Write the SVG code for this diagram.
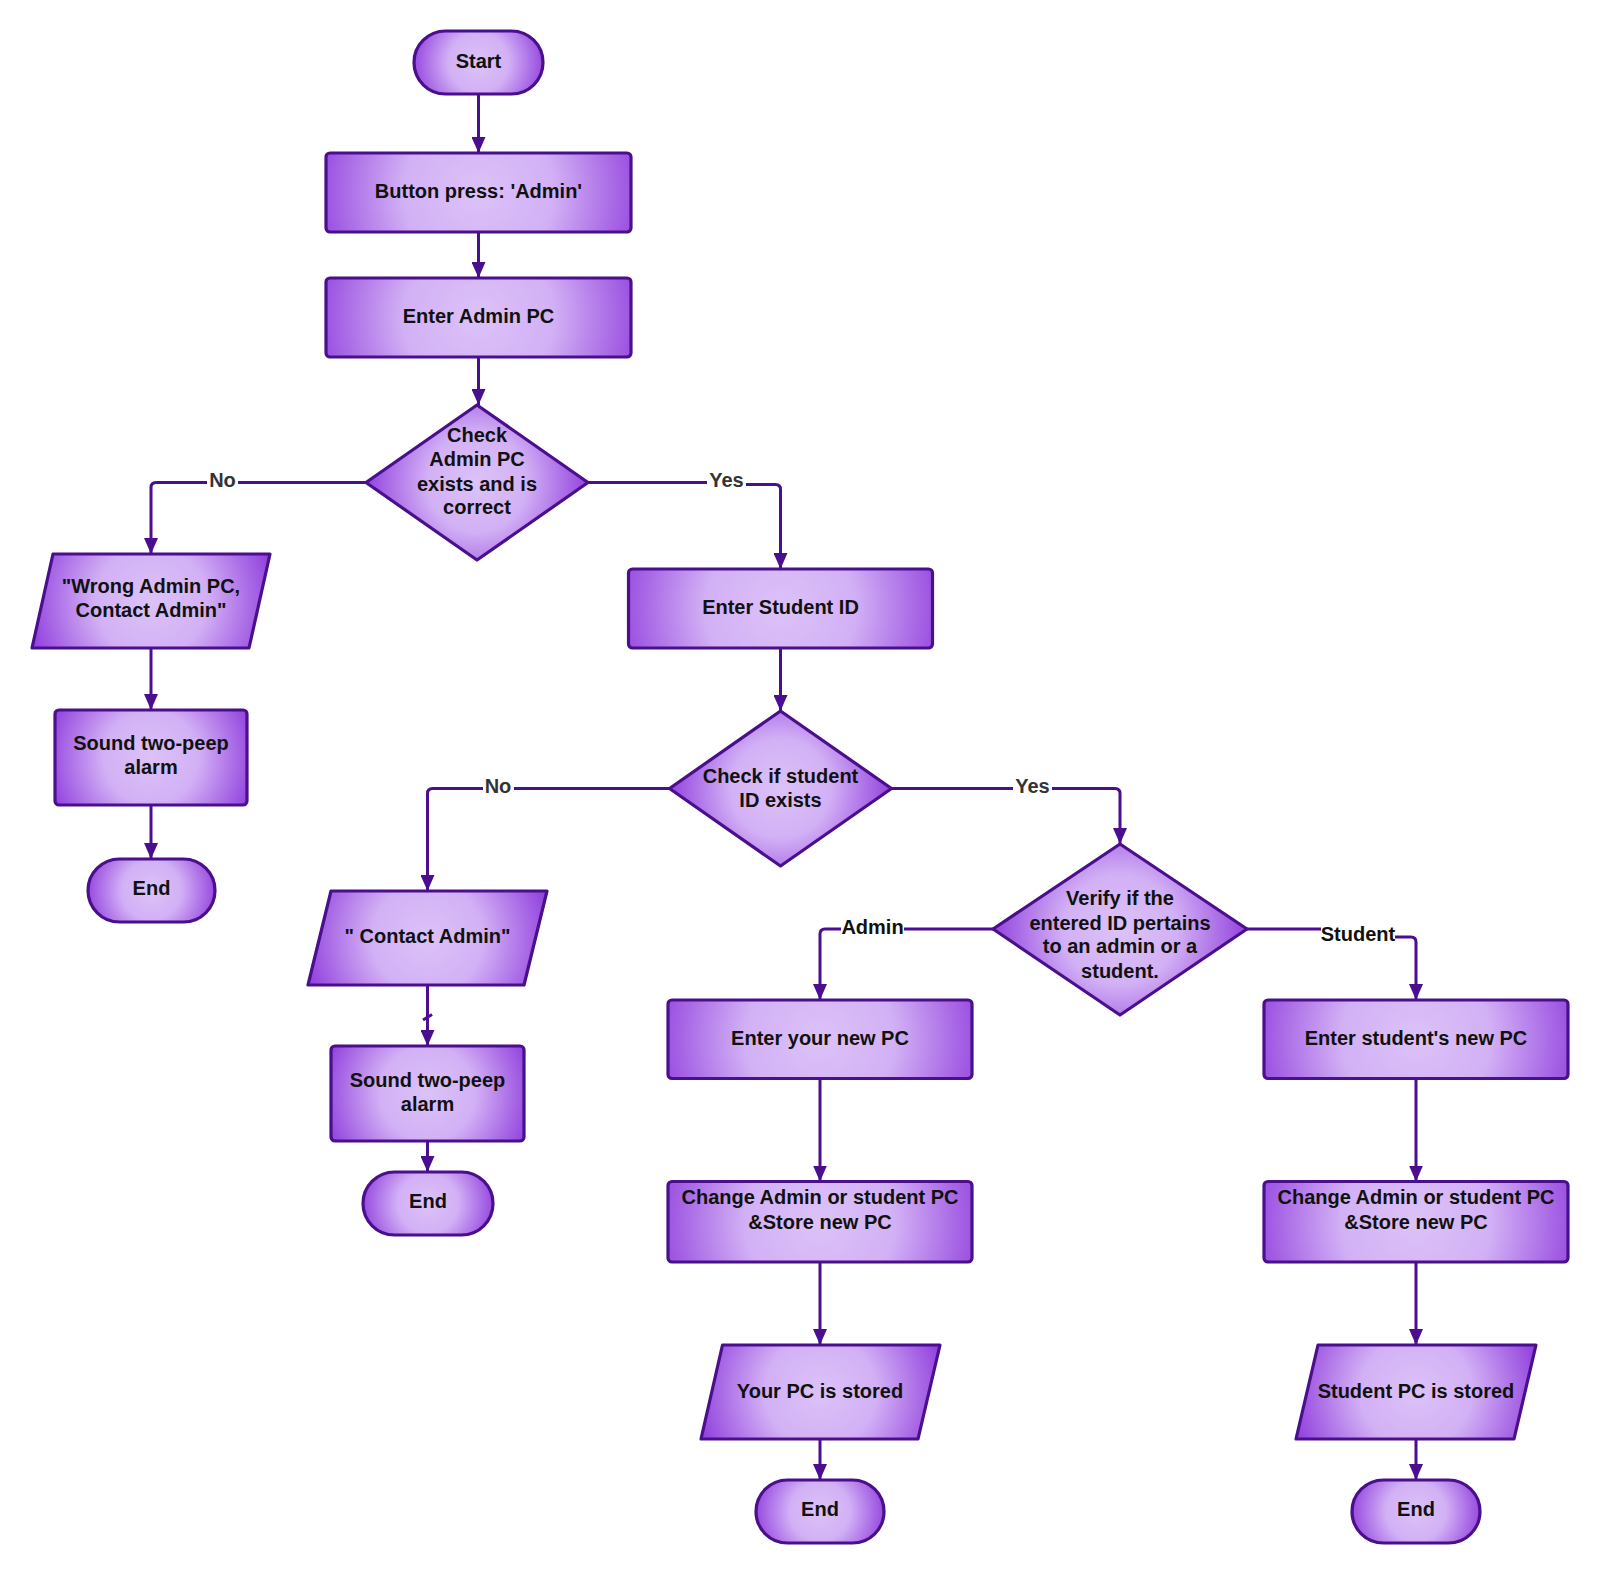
<svg xmlns="http://www.w3.org/2000/svg" width="1600" height="1575" viewBox="0 0 1600 1575">
<defs>
<radialGradient id="gBox" cx="0.5" cy="0.5" r="0.55" gradientTransform="translate(0.5 0.5) scale(1 3.88) translate(-0.5 -0.5)">
<stop offset="0" stop-color="#dcc2f8"/><stop offset="0.45" stop-color="#d2b0f5"/><stop offset="1" stop-color="#9343de"/>
</radialGradient>
<radialGradient id="gSmall" cx="0.5" cy="0.5" r="0.55" gradientTransform="translate(0.5 0.5) scale(1 2.02) translate(-0.5 -0.5)">
<stop offset="0" stop-color="#dcc2f8"/><stop offset="0.45" stop-color="#d2b0f5"/><stop offset="1" stop-color="#9343de"/>
</radialGradient>
<radialGradient id="gTerm" cx="0.5" cy="0.5" r="0.52" gradientTransform="translate(0.5 0.5) scale(1 2.03) translate(-0.5 -0.5)">
<stop offset="0" stop-color="#dcc2f8"/><stop offset="0.45" stop-color="#d2b0f5"/><stop offset="1" stop-color="#9343de"/>
</radialGradient>
<radialGradient id="gDia" cx="0.5" cy="0.5" r="0.5" gradientTransform="translate(0.5 0.5) scale(1 1.43) translate(-0.5 -0.5)">
<stop offset="0" stop-color="#dcc2f8"/><stop offset="0.45" stop-color="#d2b0f5"/><stop offset="1" stop-color="#9343de"/>
</radialGradient>
<radialGradient id="gPara" cx="0.5" cy="0.5" r="0.52" gradientTransform="translate(0.5 0.5) scale(1 2.53) translate(-0.5 -0.5)">
<stop offset="0" stop-color="#dcc2f8"/><stop offset="0.45" stop-color="#d2b0f5"/><stop offset="1" stop-color="#9343de"/>
</radialGradient>
<marker id="arr" markerUnits="userSpaceOnUse" markerWidth="16" markerHeight="14" refX="16" refY="7" orient="auto">
<path d="M0,0 L16,7 L0,14 z" fill="#4b0e8e"/>
</marker>
</defs>
<style>
.shape{stroke:#4a0f8c;stroke-width:3.2;stroke-linejoin:round}
.t{font-family:"Liberation Sans",Arial,Helvetica,sans-serif;font-weight:bold;font-size:20px;fill:#111;text-anchor:middle;white-space:pre}
.lbl{font-family:"Liberation Sans",Arial,Helvetica,sans-serif;font-weight:bold;font-size:20px;text-anchor:middle}
.c{fill:none;stroke:#4b0e8e;stroke-width:3}
.bg{fill:#ffffff}
</style>
<rect width="1600" height="1575" fill="#ffffff"/>

<g id="connectors">
<path class="c" d="M478.5 94 V153" marker-end="url(#arr)"/>
<path class="c" d="M478.5 232 V278" marker-end="url(#arr)"/>
<path class="c" d="M478.5 357 V405" marker-end="url(#arr)"/>
<path class="c" d="M366 482.5 H156 Q151 482.5 151 487.5 V554" marker-end="url(#arr)"/>
<path class="c" d="M588 482.5 H726 V484.5 H775.5 Q780.5 484.5 780.5 489.5 V569" marker-end="url(#arr)"/>
<path class="c" d="M151 648 V710" marker-end="url(#arr)"/>
<path class="c" d="M151 805 V859" marker-end="url(#arr)"/>
<path class="c" d="M780.5 648 V711" marker-end="url(#arr)"/>
<path class="c" d="M669.5 788.5 H432.5 Q427.5 788.5 427.5 793.5 V891" marker-end="url(#arr)"/>
<path class="c" d="M891.5 788.5 H1115 Q1120 788.5 1120 793.5 V844" marker-end="url(#arr)"/>
<path class="c" d="M427.5 985 V1046" marker-end="url(#arr)"/>
<path class="c" d="M423 1020 L432 1014.5" stroke-width="2"/>
<path class="c" d="M427.5 1141 V1172" marker-end="url(#arr)"/>
<path class="c" d="M993 929 H825 Q820 929 820 934 V1000" marker-end="url(#arr)"/>
<path class="c" d="M1247 929 H1358 V937 H1411 Q1416 937 1416 942 V1000" marker-end="url(#arr)"/>
<path class="c" d="M820 1078.5 V1181.5" marker-end="url(#arr)"/>
<path class="c" d="M820 1262 V1345" marker-end="url(#arr)"/>
<path class="c" d="M820 1439 V1480" marker-end="url(#arr)"/>
<path class="c" d="M1416 1078.5 V1181.5" marker-end="url(#arr)"/>
<path class="c" d="M1416 1262 V1345" marker-end="url(#arr)"/>
<path class="c" d="M1416 1439 V1480" marker-end="url(#arr)"/>
<rect class="bg" x="207" y="470" width="31" height="22"/>
<text class="lbl" x="222.5" y="487" fill="#333">No</text>
<rect class="bg" x="707" y="470" width="39" height="22"/>
<text class="lbl" x="726.5" y="487" fill="#333">Yes</text>
<rect class="bg" x="483" y="776" width="31" height="22"/>
<text class="lbl" x="498" y="793" fill="#333">No</text>
<rect class="bg" x="1013" y="776" width="39" height="22"/>
<text class="lbl" x="1032.5" y="793" fill="#333">Yes</text>
<rect class="bg" x="841" y="917" width="63" height="22"/>
<text class="lbl" x="872.5" y="934" fill="#111">Admin</text>
<rect class="bg" x="1321" y="924" width="74" height="22"/>
<text class="lbl" x="1358" y="941" fill="#111">Student</text>
</g>

<g id="start">
<rect class="shape" x="414" y="31" width="129" height="63" rx="31.5" fill="url(#gTerm)"/>
<text class="t" x="478.5" y="68">Start</text>
</g>
<g id="button-press">
<rect class="shape" x="326" y="153" width="305" height="79" rx="4" fill="url(#gBox)"/>
<text class="t" x="478.5" y="198">Button press: 'Admin'</text>
</g>
<g id="enter-admin-pc">
<rect class="shape" x="326" y="278" width="305" height="79" rx="4" fill="url(#gBox)"/>
<text class="t" x="478.5" y="323">Enter Admin PC</text>
</g>
<g id="check-admin-pc">
<polygon class="shape" points="477,405 588,482.5 477,560 366,482.5" fill="url(#gDia)"/>
<text class="t" x="477" y="442">Check</text>
<text class="t" x="477" y="466">Admin PC</text>
<text class="t" x="477" y="491">exists and is</text>
<text class="t" x="477" y="514">correct</text>
</g>
<g id="wrong-admin-pc">
<polygon class="shape" points="53,554 270,554 249,648 32,648" fill="url(#gPara)"/>
<text class="t" x="151" y="593">"Wrong Admin PC,</text>
<text class="t" x="151" y="617">Contact Admin"</text>
</g>
<g id="alarm-1">
<rect class="shape" x="55" y="710" width="192" height="95" rx="4" fill="url(#gSmall)"/>
<text class="t" x="151" y="750">Sound two-peep</text>
<text class="t" x="151" y="774">alarm</text>
</g>
<g id="end-1">
<rect class="shape" x="88" y="859" width="127" height="63" rx="31.5" fill="url(#gTerm)"/>
<text class="t" x="151.5" y="895">End</text>
</g>
<g id="enter-student-id">
<rect class="shape" x="628.5" y="569" width="304" height="79" rx="4" fill="url(#gBox)"/>
<text class="t" x="780.5" y="614">Enter Student ID</text>
</g>
<g id="check-student-id">
<polygon class="shape" points="780.5,711 891.5,788.5 780.5,866 669.5,788.5" fill="url(#gDia)"/>
<text class="t" x="780.5" y="782.5">Check if student</text>
<text class="t" x="780.5" y="807">ID exists</text>
</g>
<g id="contact-admin">
<polygon class="shape" points="331,891 547,891 524,985 308,985" fill="url(#gPara)"/>
<text class="t" x="427.5" y="943">" Contact Admin"</text>
</g>
<g id="alarm-2">
<rect class="shape" x="331" y="1046" width="193" height="95" rx="4" fill="url(#gSmall)"/>
<text class="t" x="427.5" y="1087">Sound two-peep</text>
<text class="t" x="427.5" y="1111">alarm</text>
</g>
<g id="end-2">
<rect class="shape" x="363" y="1172" width="130" height="63" rx="31.5" fill="url(#gTerm)"/>
<text class="t" x="428" y="1208">End</text>
</g>
<g id="verify-id">
<polygon class="shape" points="1120,844 1247,929 1120,1015 993,929" fill="url(#gDia)"/>
<text class="t" x="1120" y="905">Verify if the</text>
<text class="t" x="1120" y="929.5">entered ID pertains</text>
<text class="t" x="1120" y="953">to an admin or a</text>
<text class="t" x="1120" y="977.5">student.</text>
</g>
<g id="enter-your-new-pc">
<rect class="shape" x="668" y="1000" width="304" height="78.5" rx="4" fill="url(#gBox)"/>
<text class="t" x="820" y="1045">Enter your new PC</text>
</g>
<g id="change-pc-admin">
<rect class="shape" x="668" y="1181.5" width="304" height="80.5" rx="4" fill="url(#gBox)"/>
<text class="t" x="820" y="1204">Change Admin or student PC</text>
<text class="t" x="820" y="1228.5">&amp;Store new PC</text>
</g>
<g id="your-pc-stored">
<polygon class="shape" points="722.5,1345 940,1345 918,1439 701,1439" fill="url(#gPara)"/>
<text class="t" x="820" y="1398">Your PC is stored</text>
</g>
<g id="end-3">
<rect class="shape" x="756" y="1480" width="128" height="63" rx="31.5" fill="url(#gTerm)"/>
<text class="t" x="820" y="1516">End</text>
</g>
<g id="enter-student-new-pc">
<rect class="shape" x="1264" y="1000" width="304" height="78.5" rx="4" fill="url(#gBox)"/>
<text class="t" x="1416" y="1045">Enter student's new PC</text>
</g>
<g id="change-pc-student">
<rect class="shape" x="1264" y="1181.5" width="304" height="80.5" rx="4" fill="url(#gBox)"/>
<text class="t" x="1416" y="1204">Change Admin or student PC</text>
<text class="t" x="1416" y="1228.5">&amp;Store new PC</text>
</g>
<g id="student-pc-stored">
<polygon class="shape" points="1318,1345 1536,1345 1514,1439 1296,1439" fill="url(#gPara)"/>
<text class="t" x="1416" y="1398">Student PC is stored</text>
</g>
<g id="end-4">
<rect class="shape" x="1352" y="1480" width="128" height="63" rx="31.5" fill="url(#gTerm)"/>
<text class="t" x="1416" y="1516">End</text>
</g>
</svg>
